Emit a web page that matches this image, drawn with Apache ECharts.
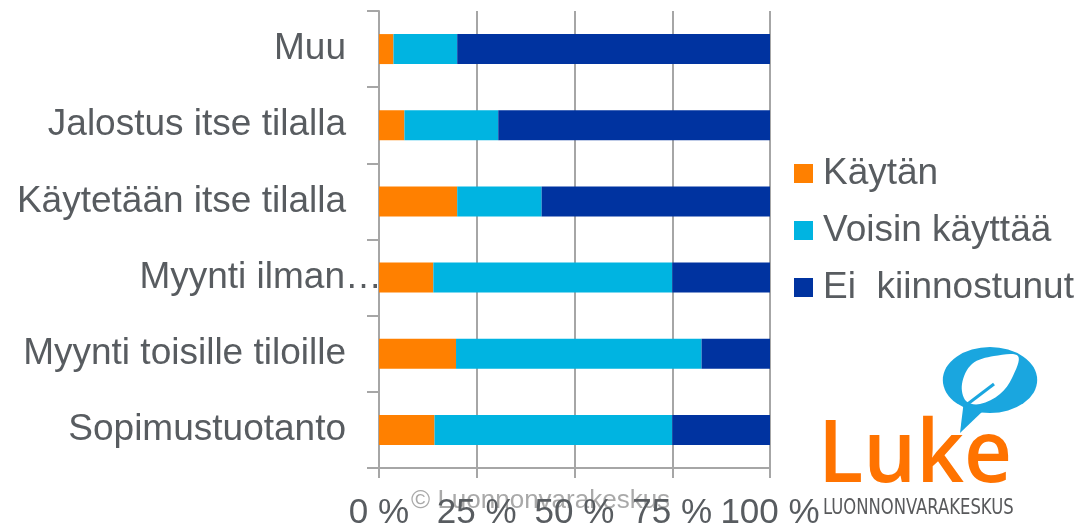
<!DOCTYPE html>
<html>
<head>
<meta charset="utf-8">
<script src="https://cdn.jsdelivr.net/npm/echarts@6/dist/echarts.min.js"></script>
<style>
  html, body { margin: 0; padding: 0; background: #fff; }
  #chart { width: 1083px; height: 528px; }
</style>
</head>
<body>
<div id="chart"></div>
<script>
// kategoriat alhaalta ylös
const categories = ['Sopimustuotanto', 'Myynti toisille tiloille', 'Myynti ilman…', 'Käytetään itse tilalla', 'Jalostus itse tilalla', 'Muu']
const kaytan = [14.2, 19.7, 13.9, 20.0, 6.5, 3.7]
const voisin = [60.8, 62.8, 61.1, 21.6, 24.0, 16.3]
const eiKiinnostunut = [25.0, 17.5, 25.0, 58.4, 69.5, 80.0]
const seriesNames = ['Käytän', 'Voisin käyttää', 'Ei  kiinnostunut']
const colors = ['#FF8000', '#00B4E1', '#0033A0']

const textColor = '#585c60'
const axisGrey = '#a6a6a6'
const font = '"Liberation Sans", Arial, sans-serif'

const chart = echarts.init(document.getElementById('chart'))

const bar = (name, data, i) => ({
  name,
  type: 'bar',
  stack: 'total',
  data,
  barWidth: 30,
  itemStyle: { color: colors[i] }
})

chart.setOption({
  animation: false,
  textStyle: { fontFamily: font },
  grid: { left: 379, right: 313, top: 11, bottom: 60, outerBoundsMode: 'none' },
  legend: {
    orient: 'vertical',
    left: 794,
    top: 155,
    padding: 0,
    icon: 'rect',
    itemWidth: 19,
    itemHeight: 19,
    itemGap: 20,
    textStyle: { fontSize: 37, color: textColor, fontFamily: font, padding: [0, 0, 0, 5] },
    data: seriesNames
  },
  xAxis: {
    type: 'value',
    min: 0,
    max: 100,
    interval: 25,
    axisLine: { show: true, lineStyle: { color: axisGrey, width: 2 } },
    axisTick: { show: true, length: 10, lineStyle: { color: axisGrey, width: 2 } },
    splitLine: { lineStyle: { color: axisGrey, width: 2 } },
    axisLabel: { formatter: '{value} %', fontSize: 35, color: textColor, margin: 28 }
  },
  yAxis: {
    type: 'category',
    data: categories,
    axisLine: { show: true, lineStyle: { color: axisGrey, width: 2 } },
    axisTick: { show: true, length: 12, lineStyle: { color: axisGrey, width: 2 } },
    axisLabel: {
      margin: -3,
      fontSize: 37,
      color: textColor,
      formatter: v => v.endsWith('…') ? '{e|' + v + '}' : '{p|' + v + '}',
      rich: {
        p: { fontSize: 37, color: textColor, fontFamily: font, padding: [0, 36, 0, 0] },
        e: { fontSize: 37, color: textColor, fontFamily: font }
      }
    }
  },
  graphic: [
    {
      type: 'text',
      z: 0,
      style: {
        x: 411, y: 501,
        text: '© Luonnonvarakeskus',
        fill: 'rgba(140,140,140,0.75)',
        font: '26px ' + font,
        textVerticalAlign: 'middle'
      }
    },
    // Luke-logon puhekupla
    {
      type: 'circle',
      x: 990, y: 380,
      scaleX: 1.43,
      shape: { cx: 0, cy: 0, r: 33 },
      style: { fill: '#1AA6DF' }
    },
    {
      type: 'polygon',
      shape: { points: [[960, 433], [964, 400], [984, 410]] },
      style: { fill: '#1AA6DF' }
    },
    {
      type: 'polygon',
      shape: {
        points: [[1018, 356], [994, 356], [972, 364], [962, 384], [966, 401], [980, 404], [1000, 394], [1012, 378]],
        smooth: 0.35
      },
      style: { fill: '#fff' }
    },
    {
      type: 'line',
      shape: { x1: 965, y1: 406, x2: 994, y2: 384 },
      style: { stroke: '#1AA6DF', lineWidth: 3 }
    },
    {
      type: 'text',
      x: 818, y: 457,
      scaleX: 0.97,
      style: {
        x: 0, y: 0,
        text: 'Luke',
        fill: '#FF7300',
        font: '600 86px "Open Sans", sans-serif',
        textVerticalAlign: 'middle'
      }
    },
    {
      type: 'text',
      x: 823, y: 509,
      scaleX: 0.87,
      style: {
        x: 0, y: 0,
        text: 'LUONNONVARAKESKUS',
        fill: '#58595B',
        font: '21px "Liberation Sans Narrow", "DejaVu Sans Condensed", sans-serif',
        textVerticalAlign: 'middle'
      }
    }
  ],
  series: [
    bar(seriesNames[0], kaytan, 0),
    bar(seriesNames[1], voisin, 1),
    bar(seriesNames[2], eiKiinnostunut, 2)
  ]
})

window.addEventListener('resize', () => chart.resize())
</script>
</body>
</html>
